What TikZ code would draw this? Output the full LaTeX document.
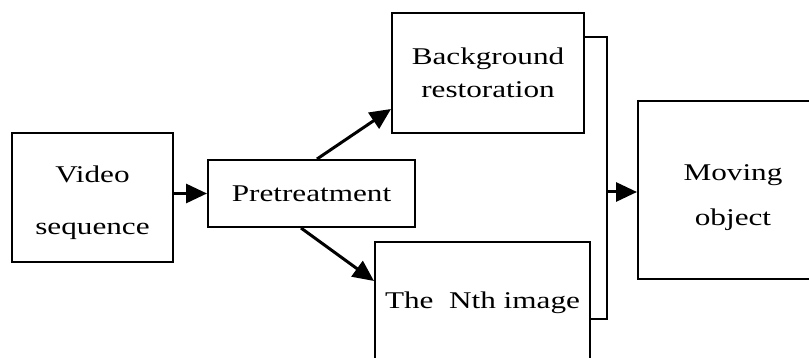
\documentclass[tikz,border=0pt]{standalone}
\usepackage{fontspec}
\setmainfont{Liberation Serif}[FakeStretch=1.3]
\usetikzlibrary{arrows.meta,calc}
\begin{document}
\begin{tikzpicture}[x=1pt,y=-1pt,
  block/.style={draw=black,line width=2pt,fill=white,align=center,inner sep=0pt,
    font=\fontsize{24}{34}\selectfont,text=black},
  caption/.style={align=center,inner sep=0pt,text=black},
  flow/.style={line width=3pt,-{Triangle[length=21pt,width=19pt]}},
  link/.style={line width=2pt}]
\useasboundingbox (0,0) rectangle (809,358);

% processing blocks
\node[block,minimum width=161pt,minimum height=129pt,
  label={[caption,font=\fontsize{24}{52}\selectfont,yshift=-5pt]center:{Video\\sequence}}]
  (video) at (92.5,197.5) {};
\node[block,minimum width=207pt,minimum height=67pt] (pre) at (311.5,193.5) {Pretreatment};
\node[block,minimum width=192pt,minimum height=120pt,
  font=\fontsize{24}{33}\selectfont] (bg) at (488,73) {Background\\restoration};
\node[block,minimum width=215pt,minimum height=118pt,
  label={[caption,font=\fontsize{24}{34}\selectfont,yshift=-2pt]center:{The\ \ Nth image}}]
  (nth) at (482.5,301) {};
\node[block,minimum width=190pt,minimum height=178pt,
  label={[caption,font=\fontsize{24}{45}\selectfont,yshift=-8pt]center:{Moving\\object}}]
  (mov) at (733,190) {};

% merging bracket on the right
\coordinate (top) at (607,37);
\coordinate (bot) at (607,319);
\coordinate (join) at (607,192);
\draw[link] (bg.east|-top) -- (top) -- (bot) -- (nth.east|-bot);

% connectors
\draw[flow] (video.east|-pre.west) -- (pre.west);
\draw[flow] ($(pre.north west)+(110,0)$) -- ($(bg.south west)+(0,-25)$);
\draw[flow] ($(pre.south west)+(94,0)$) -- ($(nth.north west)+(0,40)$);
\draw[flow] (join) -- (mov.west|-join);
\end{tikzpicture}
\end{document}
